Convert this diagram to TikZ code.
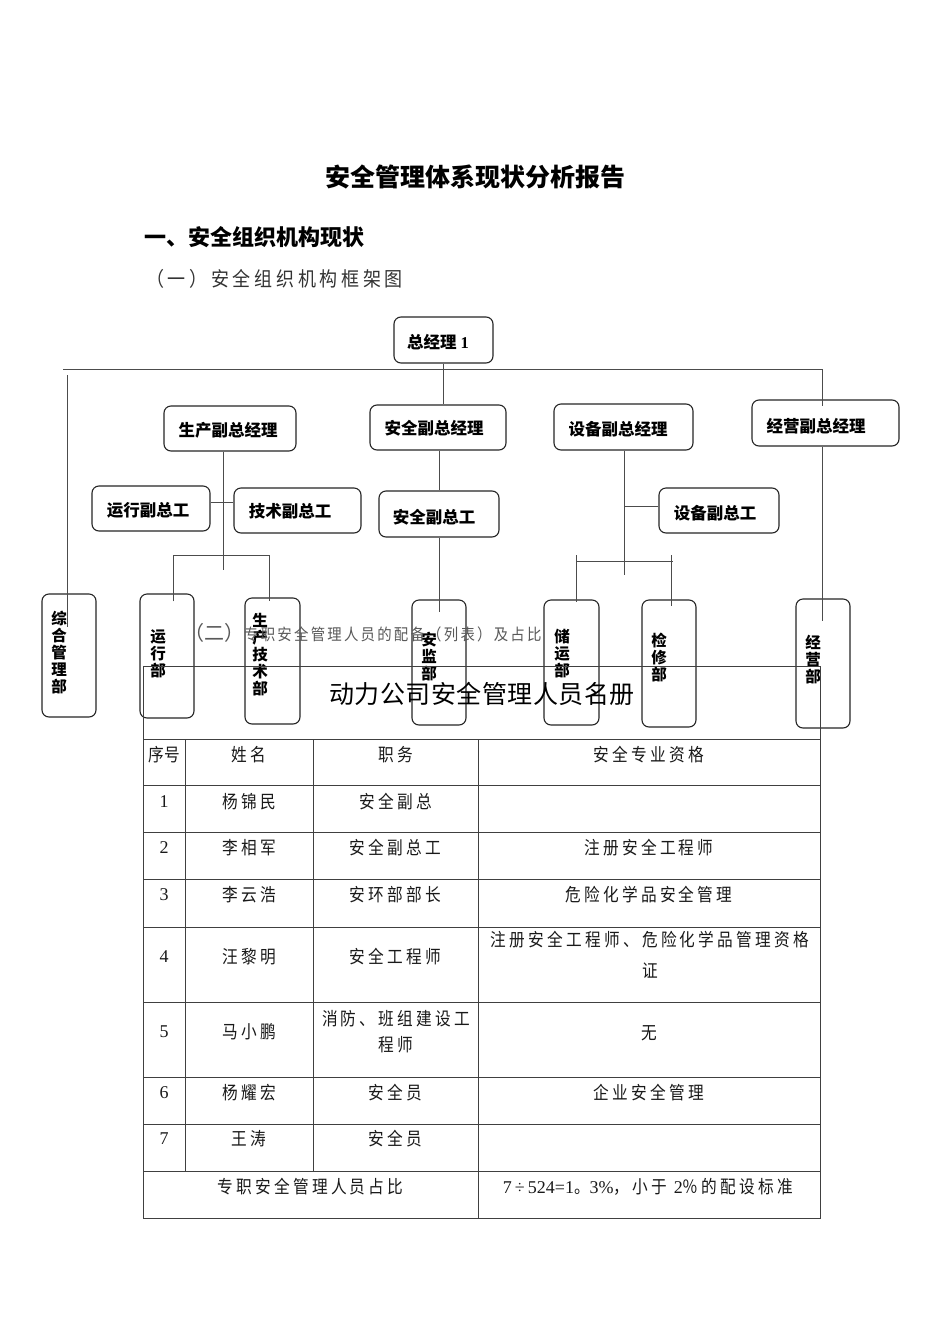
\documentclass[tikz,border=0pt]{standalone}
\usepackage{fontspec}
\setmainfont{Liberation Serif}
\newfontfamily\cjk{Noto Sans CJK SC}
\newfontfamily\cjkls[LetterSpace=18,FakeStretch=0.87]{Noto Sans CJK SC}
\newfontfamily\cjktight[FakeStretch=0.87]{Noto Sans CJK SC}
\newfontfamily\cjkh[LetterSpace=18.5,FakeStretch=0.9]{Noto Sans CJK SC}
\newfontfamily\cjksub[LetterSpace=14,FakeStretch=0.9]{Noto Sans CJK SC}
\newfontfamily\cjkreg[LetterSpace=2]{Noto Sans CJK SC}
\newfontfamily\serifd{Liberation Serif}
\newcommand{\dg}[1]{{\serifd\fontsize{18}{20}\selectfont #1}}
\begin{document}
\begin{tikzpicture}[x=1pt,y=-1pt,
 obox/.style={draw=black!85, line width=1.1pt, rounded corners=7pt, inner sep=0pt},
 conn/.style={draw=black!70, line width=0.8pt},
 tline/.style={draw=black!75, line width=0.9pt},
 btxt/.style={font={\cjk\bfseries\fontsize{16.5}{18}\selectfont}, inner sep=0pt},
 vtxt/.style={font={\cjk\bfseries\fontsize{15.5}{17}\selectfont}, align=center, inner sep=0pt},
 ttxt/.style={font={\cjkls\fontsize{18}{26}\selectfont}, inner sep=0pt, align=center, text=black!90}]
\useasboundingbox (0,0) rectangle (950,1344);
\fill[white] (0,0) rectangle (950,1344);

% headings
\node[inner sep=0pt, font={\cjk\bfseries\fontsize{25}{30}\selectfont}] (title) at (475,177) {安全管理体系现状分析报告};
\node[anchor=west, inner sep=0pt, font={\cjk\bfseries\fontsize{22}{26}\selectfont}] (h1) at (144,237) {一、安全组织机构现状};
\node[anchor=west, inner sep=0pt, text=black!80, font={\cjkh\fontsize{20}{22}\selectfont}] (h2) at (146,279) {（一）安全组织机构框架图};

% org chart boxes
\node[obox, minimum width=99pt, minimum height=46pt] (zjl) at (443.5,340) {};
\node[obox, minimum width=132pt, minimum height=45pt] (scfz) at (230,428.5) {};
\node[obox, minimum width=136pt, minimum height=45pt] (aqfz) at (438,427.5) {};
\node[obox, minimum width=139pt, minimum height=46pt] (sbfz) at (623.5,427) {};
\node[obox, minimum width=147pt, minimum height=46pt] (jyfz) at (825.5,423) {};
\node[obox, minimum width=118pt, minimum height=45pt] (yxzg) at (151,508.5) {};
\node[obox, minimum width=127pt, minimum height=45pt] (jszg) at (297.5,510.5) {};
\node[obox, minimum width=120pt, minimum height=46pt] (aqzg) at (439,514) {};
\node[obox, minimum width=120pt, minimum height=45pt] (sbzg) at (719,510.5) {};
\node[obox, minimum width=54pt, minimum height=123pt] (zhgl) at (69,655.5) {};
\node[obox, minimum width=54pt, minimum height=124pt] (yxb) at (167,656) {};
\node[obox, minimum width=55pt, minimum height=126pt] (scjs) at (272.5,661) {};
\node[obox, minimum width=54pt, minimum height=125pt] (ajb) at (439,662.5) {};
\node[obox, minimum width=55pt, minimum height=125pt] (cyb) at (571.5,662.5) {};
\node[obox, minimum width=54pt, minimum height=127pt] (jxb) at (669,663.5) {};
\node[obox, minimum width=54pt, minimum height=129pt] (jyb) at (823,663.5) {};

% box texts
\node[btxt] (zjlt) at (438,342) {总经理 {\serifd\bfseries 1}};
\node[btxt] (scfzt) at (228,430) {生产副总经理};
\node[btxt] (aqfzt) at (434,428) {安全副总经理};
\node[btxt] (sbfzt) at (618,429) {设备副总经理};
\node[btxt] (jyfzt) at (816,426) {经营副总经理};
\node[btxt] (yxzgt) at (148,510) {运行副总工};
\node[btxt] (jszgt) at (290,511) {技术副总工};
\node[btxt] (aqzgt) at (434,517) {安全副总工};
\node[btxt] (sbzgt) at (715,513) {设备副总工};
\node[vtxt] (zhglt) at (59,652.5) {综\\合\\管\\理\\部};
\node[vtxt] (yxbt) at (158,654) {运\\行\\部};
\node[vtxt] (scjst) at (260,655) {生\\产\\技\\术\\部};
\node[vtxt] (ajbt) at (429,656.5) {安\\监\\部};
\node[vtxt] (cybt) at (562,653.5) {储\\运\\部};
\node[vtxt] (jxbt) at (659,657.5) {检\\修\\部};
\node[vtxt] (jybt) at (813,660) {经\\营\\部};

% connectors
\coordinate (hl) at (63,369);
\coordinate (hr) at (822,369);
\coordinate (jyin) at (822,406);
\coordinate (lt) at (67,375);
\coordinate (zhin) at (67,627);
\draw[conn] (zjl.south) -- (zjl.south |- aqfz.north);
\draw[conn] (hl) -- (hr) -- (jyin);
\draw[conn] (lt) -- (zhin);
\draw[conn] ([xshift=-7pt]scfz.south) -- ++(0,118);
\draw[conn] ([yshift=6.5pt]yxzg.east) -- ([yshift=6.5pt]yxzg.east -| jszg.west);
\coordinate (b1l) at (173,555);
\coordinate (b1r) at (269,555);
\draw[conn] ([yshift=-8pt]yxb.north -| b1l) -- (b1l) -- (b1r) -- ([yshift=-8pt]yxb.north -| b1r);
\draw[conn] ([xshift=1.5pt]aqfz.south) -- ([xshift=1.5pt]aqfz.south |- aqzg.north);
\draw[conn] (aqzg.south) -- ++(0,74);
\draw[conn] ([xshift=0.5pt]sbfz.south) -- ++(0,124);
\draw[conn] ([yshift=4.5pt]sbzg.west) -- ([yshift=4.5pt]sbzg.west -| sbfz.south);
\coordinate (b2l) at (576,561);
\coordinate (b2r) at (673,561);
\coordinate (b2m) at (671,561);
\draw[conn] (b2l) -- (b2r);
\draw[conn] ([yshift=6pt]b2l) -- ([yshift=-3pt]cyb.north -| b2l);
\draw[conn] ([yshift=6pt]b2m) -- ([yshift=-7pt]jxb.north -| b2m);
\draw[conn] ([xshift=-3.5pt]jyfz.south) -- ++(0,174);

% section (二)
\node[anchor=west, inner sep=0pt, text=black!65] (h3) at (184,633) {{\cjk\fontsize{20}{24}\selectfont （二）}{\cjksub\fontsize{16}{18}\selectfont 专职安全管理人员的配备（列表）及占比}};

% table
\draw[tline] (143,666) -- (820,666);
\draw[tline] (143,666) -- (143,1218) -- (820,1218) -- (820,666);
\foreach \yy in {739,785,832,879,927,1002,1077,1124,1171}
  \draw[tline] (143,\yy) -- (820,\yy);
\draw[tline] (185,739) -- (185,1171);
\draw[tline] (313,739) -- (313,1171);
\draw[tline] (478,739) -- (478,1218);

\node[inner sep=0pt, font={\cjkreg\fontsize{25}{28}\selectfont}] (ttitle) at (482,694) {动力公司安全管理人员名册};

\node[ttxt, font={\cjktight\fontsize{18}{26}\selectfont}] (c00) at (164,755) {序号};
\node[ttxt] (c01) at (249,755) {姓名};
\node[ttxt] (c02) at (395.5,755) {职务};
\node[ttxt] (c03) at (649,755) {安全专业资格};

\node[ttxt] (c10) at (164,802) {\dg{1}};
\node[ttxt] (c11) at (249,802) {杨锦民};
\node[ttxt] (c12) at (395.5,802) {安全副总};

\node[ttxt] (c20) at (164,848) {\dg{2}};
\node[ttxt] (c21) at (249,848) {李相军};
\node[ttxt] (c22) at (395.5,848) {安全副总工};
\node[ttxt] (c23) at (649,848) {注册安全工程师};

\node[ttxt] (c30) at (164,895) {\dg{3}};
\node[ttxt] (c31) at (249,895) {李云浩};
\node[ttxt] (c32) at (395.5,895) {安环部部长};
\node[ttxt] (c33) at (649,895) {危险化学品安全管理};

\node[ttxt] (c40) at (164,957) {\dg{4}};
\node[ttxt] (c41) at (249,957) {汪黎明};
\node[ttxt] (c42) at (395.5,957) {安全工程师};
\node[ttxt, font={\cjkls\fontsize{18}{31}\selectfont}] (c43) at (650,954.5) {注册安全工程师、危险化学品管理资格\\证};

\node[ttxt] (c50) at (164,1032) {\dg{5}};
\node[ttxt] (c51) at (249,1032) {马小鹏};
\node[ttxt] (c52) at (396,1032) {消防、班组建设工\\程师};
\node[ttxt] (c53) at (649,1033) {无};

\node[ttxt] (c60) at (164,1093) {\dg{6}};
\node[ttxt] (c61) at (249,1093) {杨耀宏};
\node[ttxt] (c62) at (395.5,1093) {安全员};
\node[ttxt] (c63) at (649,1093) {企业安全管理};

\node[ttxt] (c70) at (164,1139) {\dg{7}};
\node[ttxt] (c71) at (249,1139) {王涛};
\node[ttxt] (c72) at (395.5,1139) {安全员};

\node[ttxt] (c80) at (310.5,1187) {专职安全管理人员占比};
\node[ttxt] (c81) at (648,1187) {\dg{7\,÷\,524=1}。\dg{3\%}，小于 \dg{2}％的配设标准};
\end{tikzpicture}
\end{document}
